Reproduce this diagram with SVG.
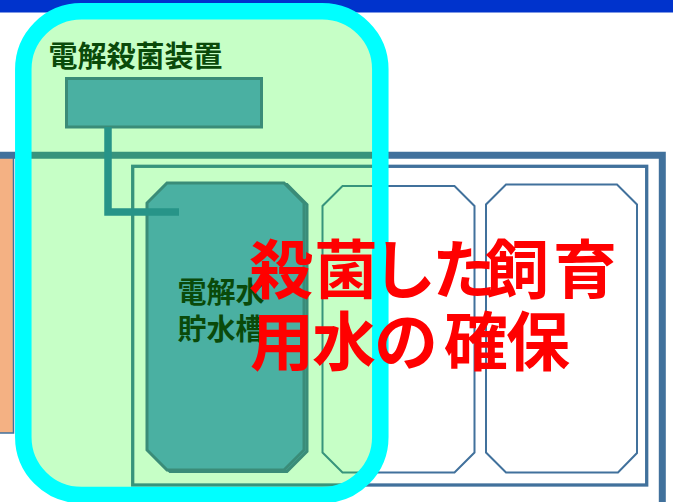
<svg xmlns="http://www.w3.org/2000/svg" width="673" height="502" viewBox="0 0 673 502">
  <defs>
    <style>
      .bld { fill: none; stroke: #41719C; }
      .tank { fill: none; stroke: #41719C; stroke-width: 2; stroke-linejoin: miter; }
      .teal { fill: #4AB0A2; stroke: #3A8C78; stroke-width: 3; }
      .pipe { fill: none; stroke: #279488; stroke-width: 7.5; stroke-linejoin: miter; }
      .jp { font-family: "Noto Sans CJK JP", "Noto Sans CJK SC", sans-serif; }
      .dk { fill: #0A4A0A; font-weight: bold; }
      .red { fill: #FF0000; font-weight: bold; font-size: 64px; }
    </style>
  </defs>
  <rect x="0" y="0" width="673" height="502" fill="#FFFFFF"/>
  <rect id="topbar" x="0" y="0" width="673" height="12.5" fill="#0033CC"/>

  <g id="building">
    <rect x="-5" y="155" width="18.5" height="278" fill="#F4B183" stroke="#41719C" stroke-width="1.5"/>
    <path class="bld" d="M-10 155.3 H662.3 V510" stroke-width="7"/>
    <rect class="bld" x="132.7" y="166.3" width="514" height="318.7" stroke-width="3.3"/>
  </g>
  <g id="tank2">
    <path class="tank" d="M342.5 186 H454.5 L474.5 206 V452.5 L454.5 472.5 H342.5 L322.5 452.5 V206 Z"/>
  </g>
  <g id="tank3">
    <path class="tank" d="M506 184.5 H617 L637 204.5 V453 L618 472.5 H506 L486 452.5 V204.5 Z"/>
  </g>

  <g id="sterilizer">
    <rect x="23.3" y="11.3" width="357" height="483.7" rx="58" ry="58" fill="#1CFF1C" fill-opacity="0.251" stroke="#00FFFF" stroke-width="16.5"/>
    <text class="jp dk" x="48.5" y="67.3" font-size="29" textLength="174" lengthAdjust="spacing">電解殺菌装置</text>
  </g>

  <g id="unit">
    <rect class="teal" x="66.5" y="78.5" width="195" height="48.5"/>
  </g>

  <g id="tank1">
    <path class="teal" transform="translate(3,1.5)" d="M167 183 H284 L304 203 V450 L284 470 H167 L147 450 V203 Z"/>
    <path class="teal" d="M167 183 H284 L304 203 V450 L284 470 H167 L147 450 V203 Z"/>
    <text class="jp dk" font-size="29"><tspan x="177.5" y="303">電解水</tspan><tspan x="177.5" y="340">貯水槽</tspan></text>
  </g>

  <g id="connectors">
    <path class="pipe" d="M108 127 V212 H179"/>
  </g>

  <g id="message">
    <text class="jp red" x="249 314 372 432 485 553" y="293">殺菌した飼育</text>
    <text class="jp red" x="250 312 374 444 506" y="365">用水の確保</text>
  </g>
</svg>
